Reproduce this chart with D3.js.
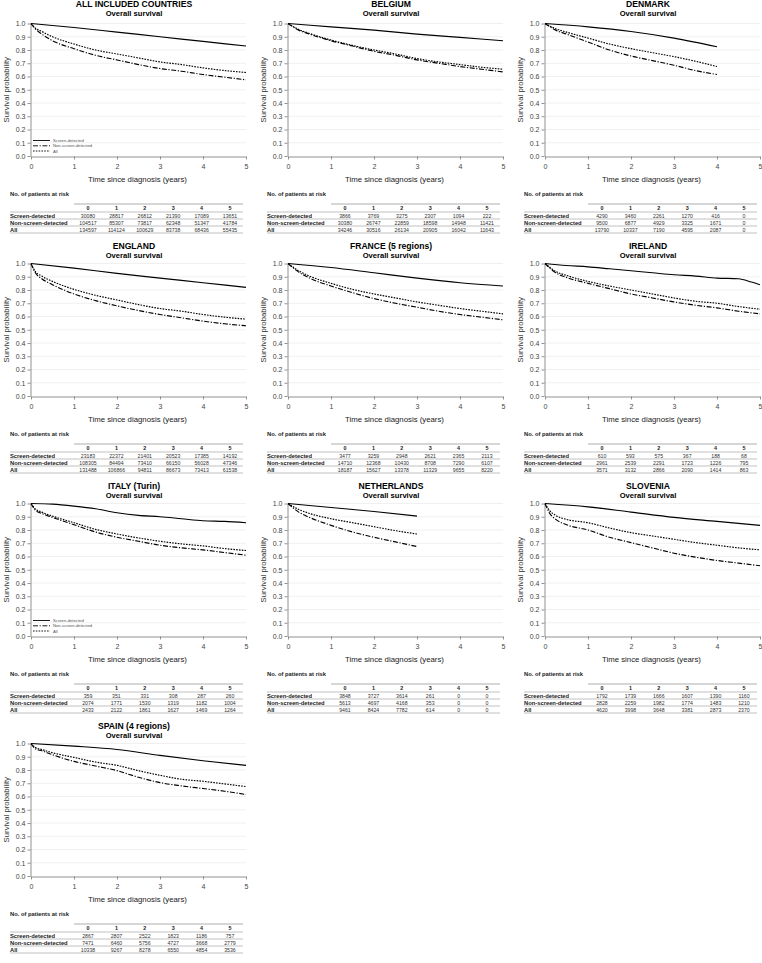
<!DOCTYPE html>
<html><head><meta charset="utf-8">
<script src="https://cdn.jsdelivr.net/npm/d3@7"></script>
<style>
body{margin:0;background:#fff}
svg{display:block}
text{font-family:"Liberation Sans",Arial,Helvetica,sans-serif}
</style>
</head><body>
<svg id="chart" width="762" height="963"></svg>
<script>
// ---------- DATA ----------
const panelTitles = ["ALL INCLUDED COUNTRIES","BELGIUM","DENMARK","ENGLAND","FRANCE (5 regions)","IRELAND","ITALY (Turin)","NETHERLANDS","SLOVENIA","SPAIN (4 regions)"];
const subtitle = "Overall survival";
const seriesNames = ["Screen-detected","Non-screen-detected","All"];
const yearTicks = [0,1,2,3,4,5];
const probTicks = [0,0.1,0.2,0.3,0.4,0.5,0.6,0.7,0.8,0.9,1.0];
const legendPanels = [0,6];
const yLabel = "Survival probability";
const xLabel = "Time since diagnosis (years)";
const tableTitle = "No. of patients at risk";

// survival curves [years, probability]
const screenCurves = [
  [[0,1],[1,0.97],[2,0.935],[3,0.90],[4,0.865],[5,0.83]],
  [[0,1],[1,0.975],[2,0.95],[3,0.92],[4,0.895],[5,0.87]],
  [[0,1],[1,0.975],[2,0.94],[3,0.89],[4,0.825]],
  [[0,1],[1,0.965],[2,0.925],[3,0.89],[4,0.855],[5,0.82]],
  [[0,1],[1,0.97],[2,0.93],[3,0.89],[4,0.855],[5,0.83]],
  [[0,1],[0.5,0.985],[1,0.975],[1.5,0.96],[2,0.945],[2.5,0.93],[3,0.915],[3.5,0.905],[4,0.89],[4.5,0.885],[4.8,0.86],[5,0.84]],
  [[0,1],[0.5,0.995],[1,0.98],[1.5,0.96],[2,0.93],[2.5,0.91],[3,0.90],[3.5,0.885],[4,0.87],[4.5,0.865],[5,0.855]],
  [[0,1],[1,0.97],[2,0.94],[3,0.905]],
  [[0,1],[1,0.975],[2,0.935],[3,0.895],[4,0.865],[5,0.835]],
  [[0,1],[1,0.98],[2,0.955],[3,0.91],[4,0.87],[5,0.835]]
];
const nonScreenCurves = [
  [[0,1],[0.1,0.96],[0.25,0.92],[0.5,0.87],[1,0.81],[1.5,0.76],[2,0.725],[2.5,0.69],[3,0.66],[3.5,0.64],[4,0.615],[4.5,0.595],[5,0.575]],
  [[0,1],[0.25,0.95],[0.5,0.92],[1,0.87],[1.5,0.83],[2,0.79],[2.5,0.76],[3,0.725],[3.5,0.70],[4,0.675],[4.5,0.655],[5,0.635]],
  [[0,1],[0.25,0.95],[0.5,0.92],[1,0.86],[1.5,0.80],[2,0.755],[2.5,0.72],[3,0.685],[3.5,0.645],[4,0.615]],
  [[0,1],[0.1,0.93],[0.25,0.885],[0.5,0.84],[1,0.77],[1.5,0.72],[2,0.68],[2.5,0.645],[3,0.615],[3.5,0.59],[4,0.565],[4.5,0.545],[5,0.53]],
  [[0,1],[0.25,0.935],[0.5,0.89],[1,0.83],[1.5,0.78],[2,0.735],[2.5,0.70],[3,0.67],[3.5,0.64],[4,0.615],[4.5,0.595],[5,0.575]],
  [[0,1],[0.25,0.93],[0.5,0.895],[1,0.85],[1.5,0.81],[2,0.77],[2.5,0.74],[3,0.71],[3.5,0.685],[4,0.665],[4.5,0.64],[5,0.62]],
  [[0,1],[0.1,0.95],[0.25,0.925],[0.5,0.895],[1,0.84],[1.5,0.785],[2,0.745],[2.5,0.715],[3,0.685],[3.5,0.665],[4,0.65],[4.5,0.63],[5,0.61]],
  [[0,1],[0.25,0.935],[0.5,0.895],[1,0.835],[1.5,0.785],[2,0.745],[2.5,0.71],[3,0.675]],
  [[0,1],[0.1,0.93],[0.25,0.88],[0.5,0.84],[1,0.80],[1.5,0.745],[2,0.705],[2.5,0.665],[3,0.625],[3.5,0.595],[4,0.57],[4.5,0.55],[5,0.53]],
  [[0,1],[0.1,0.96],[0.25,0.945],[0.5,0.915],[1,0.865],[1.5,0.83],[2,0.795],[2.5,0.745],[3,0.705],[3.5,0.68],[4,0.66],[4.5,0.64],[5,0.615]]
];
const allCurves = [
  [[0,1],[0.1,0.965],[0.25,0.94],[0.5,0.90],[1,0.845],[1.5,0.80],[2,0.77],[2.5,0.74],[3,0.71],[3.5,0.69],[4,0.665],[4.5,0.645],[5,0.63]],
  [[0,1],[0.25,0.955],[0.5,0.925],[1,0.875],[1.5,0.835],[2,0.80],[2.5,0.77],[3,0.735],[3.5,0.71],[4,0.69],[4.5,0.67],[5,0.655]],
  [[0,1],[0.25,0.96],[0.5,0.935],[1,0.89],[1.5,0.845],[2,0.81],[2.5,0.78],[3,0.75],[3.5,0.715],[4,0.675]],
  [[0,1],[0.1,0.94],[0.25,0.905],[0.5,0.865],[1,0.805],[1.5,0.76],[2,0.725],[2.5,0.69],[3,0.66],[3.5,0.64],[4,0.615],[4.5,0.595],[5,0.58]],
  [[0,1],[0.25,0.945],[0.5,0.905],[1,0.85],[1.5,0.805],[2,0.77],[2.5,0.74],[3,0.71],[3.5,0.685],[4,0.66],[4.5,0.64],[5,0.62]],
  [[0,1],[0.25,0.94],[0.5,0.91],[1,0.865],[1.5,0.83],[2,0.80],[2.5,0.77],[3,0.74],[3.5,0.715],[4,0.70],[4.5,0.675],[5,0.655]],
  [[0,1],[0.1,0.96],[0.25,0.935],[0.5,0.905],[1,0.855],[1.5,0.805],[2,0.77],[2.5,0.74],[3,0.715],[3.5,0.695],[4,0.68],[4.5,0.66],[5,0.645]],
  [[0,1],[0.25,0.955],[0.5,0.925],[1,0.885],[1.5,0.855],[2,0.825],[2.5,0.795],[3,0.77]],
  [[0,1],[0.1,0.95],[0.25,0.91],[0.5,0.88],[1,0.855],[1.5,0.815],[2,0.78],[2.5,0.755],[3,0.73],[3.5,0.705],[4,0.685],[4.5,0.665],[5,0.65]],
  [[0,1],[0.1,0.97],[0.25,0.955],[0.5,0.93],[1,0.895],[1.5,0.86],[2,0.835],[2.5,0.795],[3,0.76],[3.5,0.73],[4,0.715],[4.5,0.695],[5,0.675]]
];

// numbers at risk at years 0..5
const riskScreen = [
  [30080,28817,26812,21390,17089,13651],
  [3866,3769,3275,2307,1094,222],
  [4290,3460,2261,1270,416,0],
  [23183,22372,21401,20523,17385,14192],
  [3477,3259,2948,2621,2365,2113],
  [610,593,575,367,188,68],
  [359,351,331,308,287,260],
  [3848,3727,3614,261,0,0],
  [1792,1739,1666,1607,1390,1160],
  [2867,2807,2522,1823,1186,757]
];
const riskNonScreen = [
  [104517,85307,73817,62348,51347,41784],
  [30380,26747,22859,18598,14948,11421],
  [9500,6877,4929,3325,1671,0],
  [108305,84494,73410,66150,56028,47346],
  [14710,12368,10430,8708,7290,6107],
  [2961,2539,2291,1723,1226,795],
  [2074,1771,1530,1319,1182,1004],
  [5613,4697,4168,353,0,0],
  [2828,2259,1982,1774,1483,1210],
  [7471,6460,5756,4727,3668,2779]
];
const riskAll = [
  [134597,114124,100629,83738,68436,55435],
  [34246,30516,26134,20905,16042,11643],
  [13790,10337,7190,4595,2087,0],
  [131488,106866,94811,86673,73413,61538],
  [18187,15627,13378,11329,9655,8220],
  [3571,3132,2866,2090,1414,863],
  [2433,2122,1861,1627,1469,1264],
  [9461,8424,7782,614,0,0],
  [4620,3998,3648,3381,2873,2370],
  [10338,9267,8278,6550,4854,3536]
];

// ---------- DRAW ----------
const svg = d3.select("#chart");
const colW = 257, rowH = 240;
const plotL = 31, plotR = 246, plotT = 23.5, plotB = 156;
const dashes = ["none", "5,1.6,1.2,1.6", "1.6,1.2"];
const curveSets = [screenCurves, nonScreenCurves, allCurves];
const riskSets = [riskScreen, riskNonScreen, riskAll];

panelTitles.forEach((title, i) => {
  const c = i % 3, r = Math.floor(i / 3);
  const g = svg.append("g").attr("transform", `translate(${c*colW},${r*rowH})`);
  const x = d3.scaleLinear().domain([0,5]).range([plotL, plotR]);
  const y = d3.scaleLinear().domain([0,1]).range([plotB, plotT]);

  // grid
  g.append("g").selectAll("line").data(probTicks.filter(d => d > 0)).join("line")
    .attr("x1", x(0)).attr("x2", x(5))
    .attr("y1", d => y(d)).attr("y2", d => y(d))
    .attr("stroke", "#ececec").attr("stroke-width", 0.8);

  // axes
  const ya = g.append("g").attr("transform", `translate(${x(0)-0.5},0)`)
    .call(d3.axisLeft(y).tickValues(probTicks).tickFormat(d3.format(".1f")).tickSize(3).tickSizeOuter(0).tickPadding(2));
  const xa = g.append("g").attr("transform", `translate(0,${y(0)+0.5})`)
    .call(d3.axisBottom(x).tickValues(yearTicks).tickFormat(d3.format("d")).tickSize(3).tickSizeOuter(0).tickPadding(5));
  [ya, xa].forEach(a => {
    a.select(".domain").attr("stroke", "#777").attr("stroke-width", 0.8);
    a.selectAll(".tick line").attr("stroke", "#777").attr("stroke-width", 0.8);
    a.selectAll(".tick text").attr("font-size", 7).attr("fill", "#444")
      .style("font-family", '"Liberation Sans",Arial,sans-serif');
  });

  // curves
  const line = d3.line().x(d => x(d[0])).y(d => y(d[1])).curve(d3.curveMonotoneX);
  curveSets.forEach((set, k) => {
    g.append("path").datum(set[i]).attr("d", line)
      .attr("fill", "none").attr("stroke", "#000").attr("stroke-width", 1.15)
      .attr("stroke-dasharray", dashes[k]);
  });

  // titles
  const cx = plotL + 103;
  g.append("text").attr("x", cx).attr("y", r === 0 ? 7 : 9).attr("text-anchor", "middle")
    .attr("font-size", 8.6).attr("font-weight", "bold").text(title);
  g.append("text").attr("x", cx).attr("y", r === 0 ? 16 : 17.5).attr("text-anchor", "middle")
    .attr("font-size", 7.6).attr("font-weight", "bold").text(subtitle);

  // axis titles
  g.append("text").attr("transform", `translate(8.5,${(plotT+plotB)/2}) rotate(-90)`)
    .attr("text-anchor", "middle").attr("font-size", 7.8).attr("fill", "#333").text(yLabel);
  g.append("text").attr("x", (plotL+plotR)/2 - 1).attr("y", 182)
    .attr("text-anchor", "middle").attr("font-size", 7.8).attr("fill", "#222").text(xLabel);

  // legend
  if (legendPanels.includes(i)) {
    const ly = [140.5, 145.8, 151];
    seriesNames.forEach((nm, k) => {
      g.append("line").attr("x1", plotL + 2).attr("x2", plotL + 19)
        .attr("y1", ly[k]).attr("y2", ly[k])
        .attr("stroke", "#000").attr("stroke-width", 0.9).attr("stroke-dasharray", dashes[k]);
      g.append("text").attr("x", plotL + 22).attr("y", ly[k] + 1.5)
        .attr("font-size", 4.2).attr("fill", "#555").text(nm);
    });
  }

  // risk table
  const tx = d3.scalePoint().domain(yearTicks).range([88, 230]);
  const tL = 10, tR = 243;
  g.append("text").attr("x", tL).attr("y", 196).attr("font-size", 5.8)
    .attr("font-weight", "bold").attr("fill", "#222").text(tableTitle);
  g.append("line").attr("x1", 74).attr("x2", tR).attr("y1", 204).attr("y2", 204)
    .attr("stroke", "#999").attr("stroke-width", 0.8);
  [212, 219, 226, 233].forEach(ly => {
    g.append("line").attr("x1", tL).attr("x2", tR).attr("y1", ly).attr("y2", ly)
      .attr("stroke", "#999").attr("stroke-width", 0.6);
  });
  yearTicks.forEach(t => {
    g.append("text").attr("x", tx(t)).attr("y", 210).attr("text-anchor", "middle")
      .attr("font-size", 5.4).attr("font-weight", "bold").attr("fill", "#222").text(t);
  });
  seriesNames.forEach((nm, k) => {
    const by = 217.6 + 7 * k;
    g.append("text").attr("x", tL).attr("y", by).attr("font-size", 5.8)
      .attr("font-weight", "bold").attr("fill", "#222").text(nm);
    riskSets[k][i].forEach((v, t) => {
      g.append("text").attr("x", tx(t)).attr("y", by).attr("text-anchor", "middle")
        .attr("font-size", 5.2).attr("fill", "#333").text(v);
    });
  });
});
</script>
</body></html>
